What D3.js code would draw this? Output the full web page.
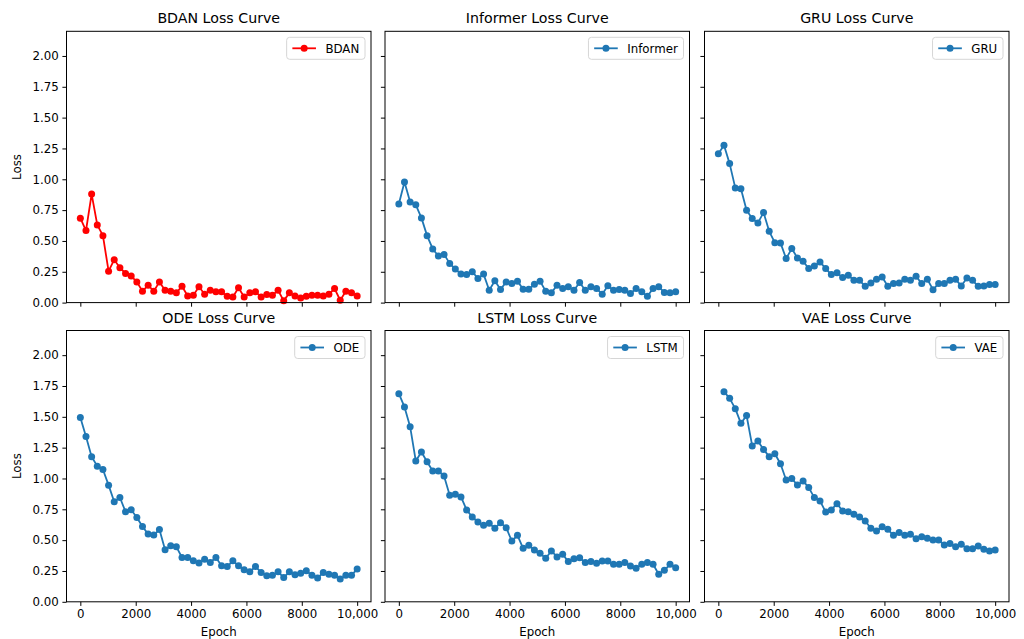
<!DOCTYPE html>
<html><head><meta charset="utf-8">
<script src="https://cdn.jsdelivr.net/npm/d3@7"></script>
<style>body{margin:0;background:#fff} text{font-family:"DejaVu Sans",sans-serif}</style>
</head><body><svg id="c" width="1024" height="639"></svg>
<script>
const epochs = [0,204,408,612,816,1020,1224,1429,1633,1837,2041,2245,2449,2653,2857,3061,3265,3469,3673,3878,4082,4286,4490,4694,4898,5102,5306,5510,5714,5918,6122,6327,6531,6735,6939,7143,7347,7551,7755,7959,8163,8367,8571,8776,8980,9184,9388,9592,9796,10000];
const bdanLoss = [0.685,0.584,0.88,0.63,0.543,0.255,0.348,0.283,0.236,0.215,0.168,0.092,0.141,0.092,0.168,0.10,0.092,0.079,0.133,0.054,0.06,0.128,0.068,0.10,0.087,0.087,0.052,0.046,0.12,0.046,0.079,0.087,0.046,0.065,0.06,0.10,0.014,0.079,0.054,0.038,0.052,0.06,0.06,0.054,0.068,0.114,0.019,0.092,0.079,0.054];
const informerLoss = [0.80,0.978,0.815,0.793,0.687,0.543,0.435,0.378,0.391,0.318,0.272,0.231,0.228,0.25,0.196,0.231,0.10,0.177,0.106,0.168,0.155,0.174,0.109,0.109,0.149,0.174,0.092,0.079,0.141,0.114,0.128,0.10,0.163,0.10,0.128,0.114,0.068,0.136,0.10,0.106,0.10,0.073,0.114,0.087,0.052,0.114,0.128,0.082,0.079,0.087];
const gruLoss = [1.208,1.276,1.127,0.93,0.924,0.749,0.681,0.646,0.73,0.578,0.486,0.484,0.357,0.438,0.362,0.335,0.276,0.297,0.33,0.276,0.227,0.243,0.203,0.222,0.181,0.181,0.132,0.159,0.189,0.208,0.132,0.154,0.159,0.189,0.181,0.214,0.154,0.189,0.105,0.154,0.154,0.181,0.189,0.135,0.20,0.181,0.132,0.135,0.146,0.146];
const odeLoss = [1.495,1.34,1.176,1.10,1.073,0.946,0.811,0.846,0.73,0.746,0.684,0.611,0.549,0.541,0.586,0.422,0.454,0.446,0.359,0.359,0.332,0.314,0.346,0.319,0.359,0.292,0.286,0.332,0.292,0.259,0.243,0.286,0.238,0.211,0.216,0.243,0.197,0.243,0.219,0.232,0.251,0.216,0.192,0.238,0.224,0.216,0.184,0.216,0.216,0.265];
const lstmLoss = [1.688,1.58,1.42,1.142,1.215,1.136,1.061,1.061,1.02,0.864,0.872,0.85,0.745,0.688,0.647,0.62,0.636,0.596,0.642,0.601,0.493,0.539,0.434,0.458,0.42,0.393,0.353,0.412,0.364,0.385,0.326,0.35,0.358,0.318,0.326,0.312,0.331,0.331,0.304,0.304,0.318,0.291,0.272,0.304,0.318,0.304,0.223,0.255,0.304,0.277];
const vaeEpochs = epochs.slice(1);
const vaeLoss = [1.704,1.65,1.566,1.447,1.511,1.264,1.304,1.236,1.177,1.201,1.12,0.988,0.999,0.947,0.98,0.926,0.845,0.818,0.728,0.745,0.796,0.736,0.731,0.709,0.688,0.655,0.596,0.574,0.609,0.588,0.539,0.561,0.539,0.547,0.512,0.528,0.515,0.501,0.501,0.461,0.472,0.447,0.466,0.431,0.431,0.453,0.426,0.412,0.42];
const modelNames = ["BDAN","Informer","GRU","ODE","LSTM","VAE"];
const modelColors = ["#ff0000","#1f77b4","#1f77b4","#1f77b4","#1f77b4","#1f77b4"];
const yTicks = [0,0.25,0.5,0.75,1.0,1.25,1.5,1.75,2.0];
const xTicks = [0,2000,4000,6000,8000,10000];
const xTickLabels = ["0","2000","4000","6000","8000","10,000"];

const series = [
  {name: modelNames[0], x: epochs, y: bdanLoss, color: modelColors[0]},
  {name: modelNames[1], x: epochs, y: informerLoss, color: modelColors[1]},
  {name: modelNames[2], x: epochs, y: gruLoss, color: modelColors[2]},
  {name: modelNames[3], x: epochs, y: odeLoss, color: modelColors[3]},
  {name: modelNames[4], x: epochs, y: lstmLoss, color: modelColors[4]},
  {name: modelNames[5], x: vaeEpochs, y: vaeLoss, color: modelColors[5]}
];

const svg = d3.select("#c");
const lefts = [66.5, 385, 704.5], tops = [31.3, 330.5];
const W = 304.5, H = 271.3;
const FS = 11.8, TFS = 14.2;
const tickLen = 4.1;

series.forEach((s, i) => {
  const col = i % 3, row = Math.floor(i / 3);
  const g = svg.append("g").attr("transform", `translate(${lefts[col]},${tops[row]})`);
  const x = d3.scaleLinear().domain([-500, 10500]).range([0, W]);
  const y = d3.scaleLinear().domain([0, 2.2]).range([H, 0]);

  const xa = g.append("g").attr("transform", `translate(0,${H})`)
    .call(d3.axisBottom(x).tickValues(xTicks).tickSize(tickLen).tickPadding(3.6)
      .tickFormat((d, j) => row === 1 ? xTickLabels[j] : ""));
  const ya = g.append("g")
    .call(d3.axisLeft(y).tickValues(yTicks).tickSize(tickLen).tickPadding(3.6)
      .tickFormat(d => col === 0 ? d3.format(".2f")(d) : ""));
  [xa, ya].forEach(a => {
    a.select(".domain").remove();
    a.selectAll(".tick line").attr("stroke", "#000").attr("stroke-width", 1);
    a.selectAll(".tick text").attr("fill", "#000").style("font-size", FS + "px")
      .style("font-family", "DejaVu Sans");
  });

  const line = d3.line().x((d, k) => x(s.x[k])).y(d => y(d));
  g.append("path").datum(s.y).attr("d", line).attr("fill", "none")
    .attr("stroke", s.color).attr("stroke-width", 1.8).attr("stroke-linejoin", "round");
  g.selectAll("circle.pt").data(s.y).enter().append("circle").attr("class", "pt")
    .attr("cx", (d, k) => x(s.x[k])).attr("cy", d => y(d)).attr("r", 3.5)
    .attr("fill", s.color);

  g.append("rect").attr("x", 0).attr("y", 0).attr("width", W).attr("height", H)
    .attr("fill", "none").attr("stroke", "#000").attr("stroke-width", 1);

  g.append("text").attr("x", W / 2).attr("y", -8).attr("text-anchor", "middle")
    .style("font-size", TFS + "px").attr("fill", "#000").text(s.name + " Loss Curve");

  // legend
  const lg = g.append("g");
  const txt = lg.append("text").style("font-size", FS + "px").attr("fill", "#000").text(s.name);
  const tw = txt.node().getComputedTextLength();
  const pad = 0.4 * FS, handle = 2.0 * FS, gap = 0.8 * FS;
  const lw = pad + handle + gap + tw + pad + 2;
  const lh = 22;
  const lx = W - 6 - lw, ly = 6;
  lg.insert("rect", "text").attr("x", lx).attr("y", ly).attr("width", lw).attr("height", lh)
    .attr("rx", 3).attr("fill", "#fff").attr("fill-opacity", 0.8)
    .attr("stroke", "#d6d6d6").attr("stroke-width", 1);
  const hx = lx + pad + 1, hy = ly + lh / 2;
  lg.append("line").attr("x1", hx).attr("x2", hx + handle).attr("y1", hy).attr("y2", hy)
    .attr("stroke", s.color).attr("stroke-width", 1.8);
  lg.append("circle").attr("cx", hx + handle / 2).attr("cy", hy).attr("r", 3.5).attr("fill", s.color);
  txt.attr("x", hx + handle + gap).attr("y", hy + FS * 0.36);

  if (col === 0) {
    g.append("text").attr("transform", `translate(-46,${H / 2}) rotate(-90)`)
      .attr("text-anchor", "middle").style("font-size", FS + "px").attr("fill", "#000").text("Loss");
  }
  if (row === 1) {
    g.append("text").attr("x", W / 2).attr("y", H + 34.5).attr("text-anchor", "middle")
      .style("font-size", FS + "px").attr("fill", "#000").text("Epoch");
  }
});
</script></body></html>
